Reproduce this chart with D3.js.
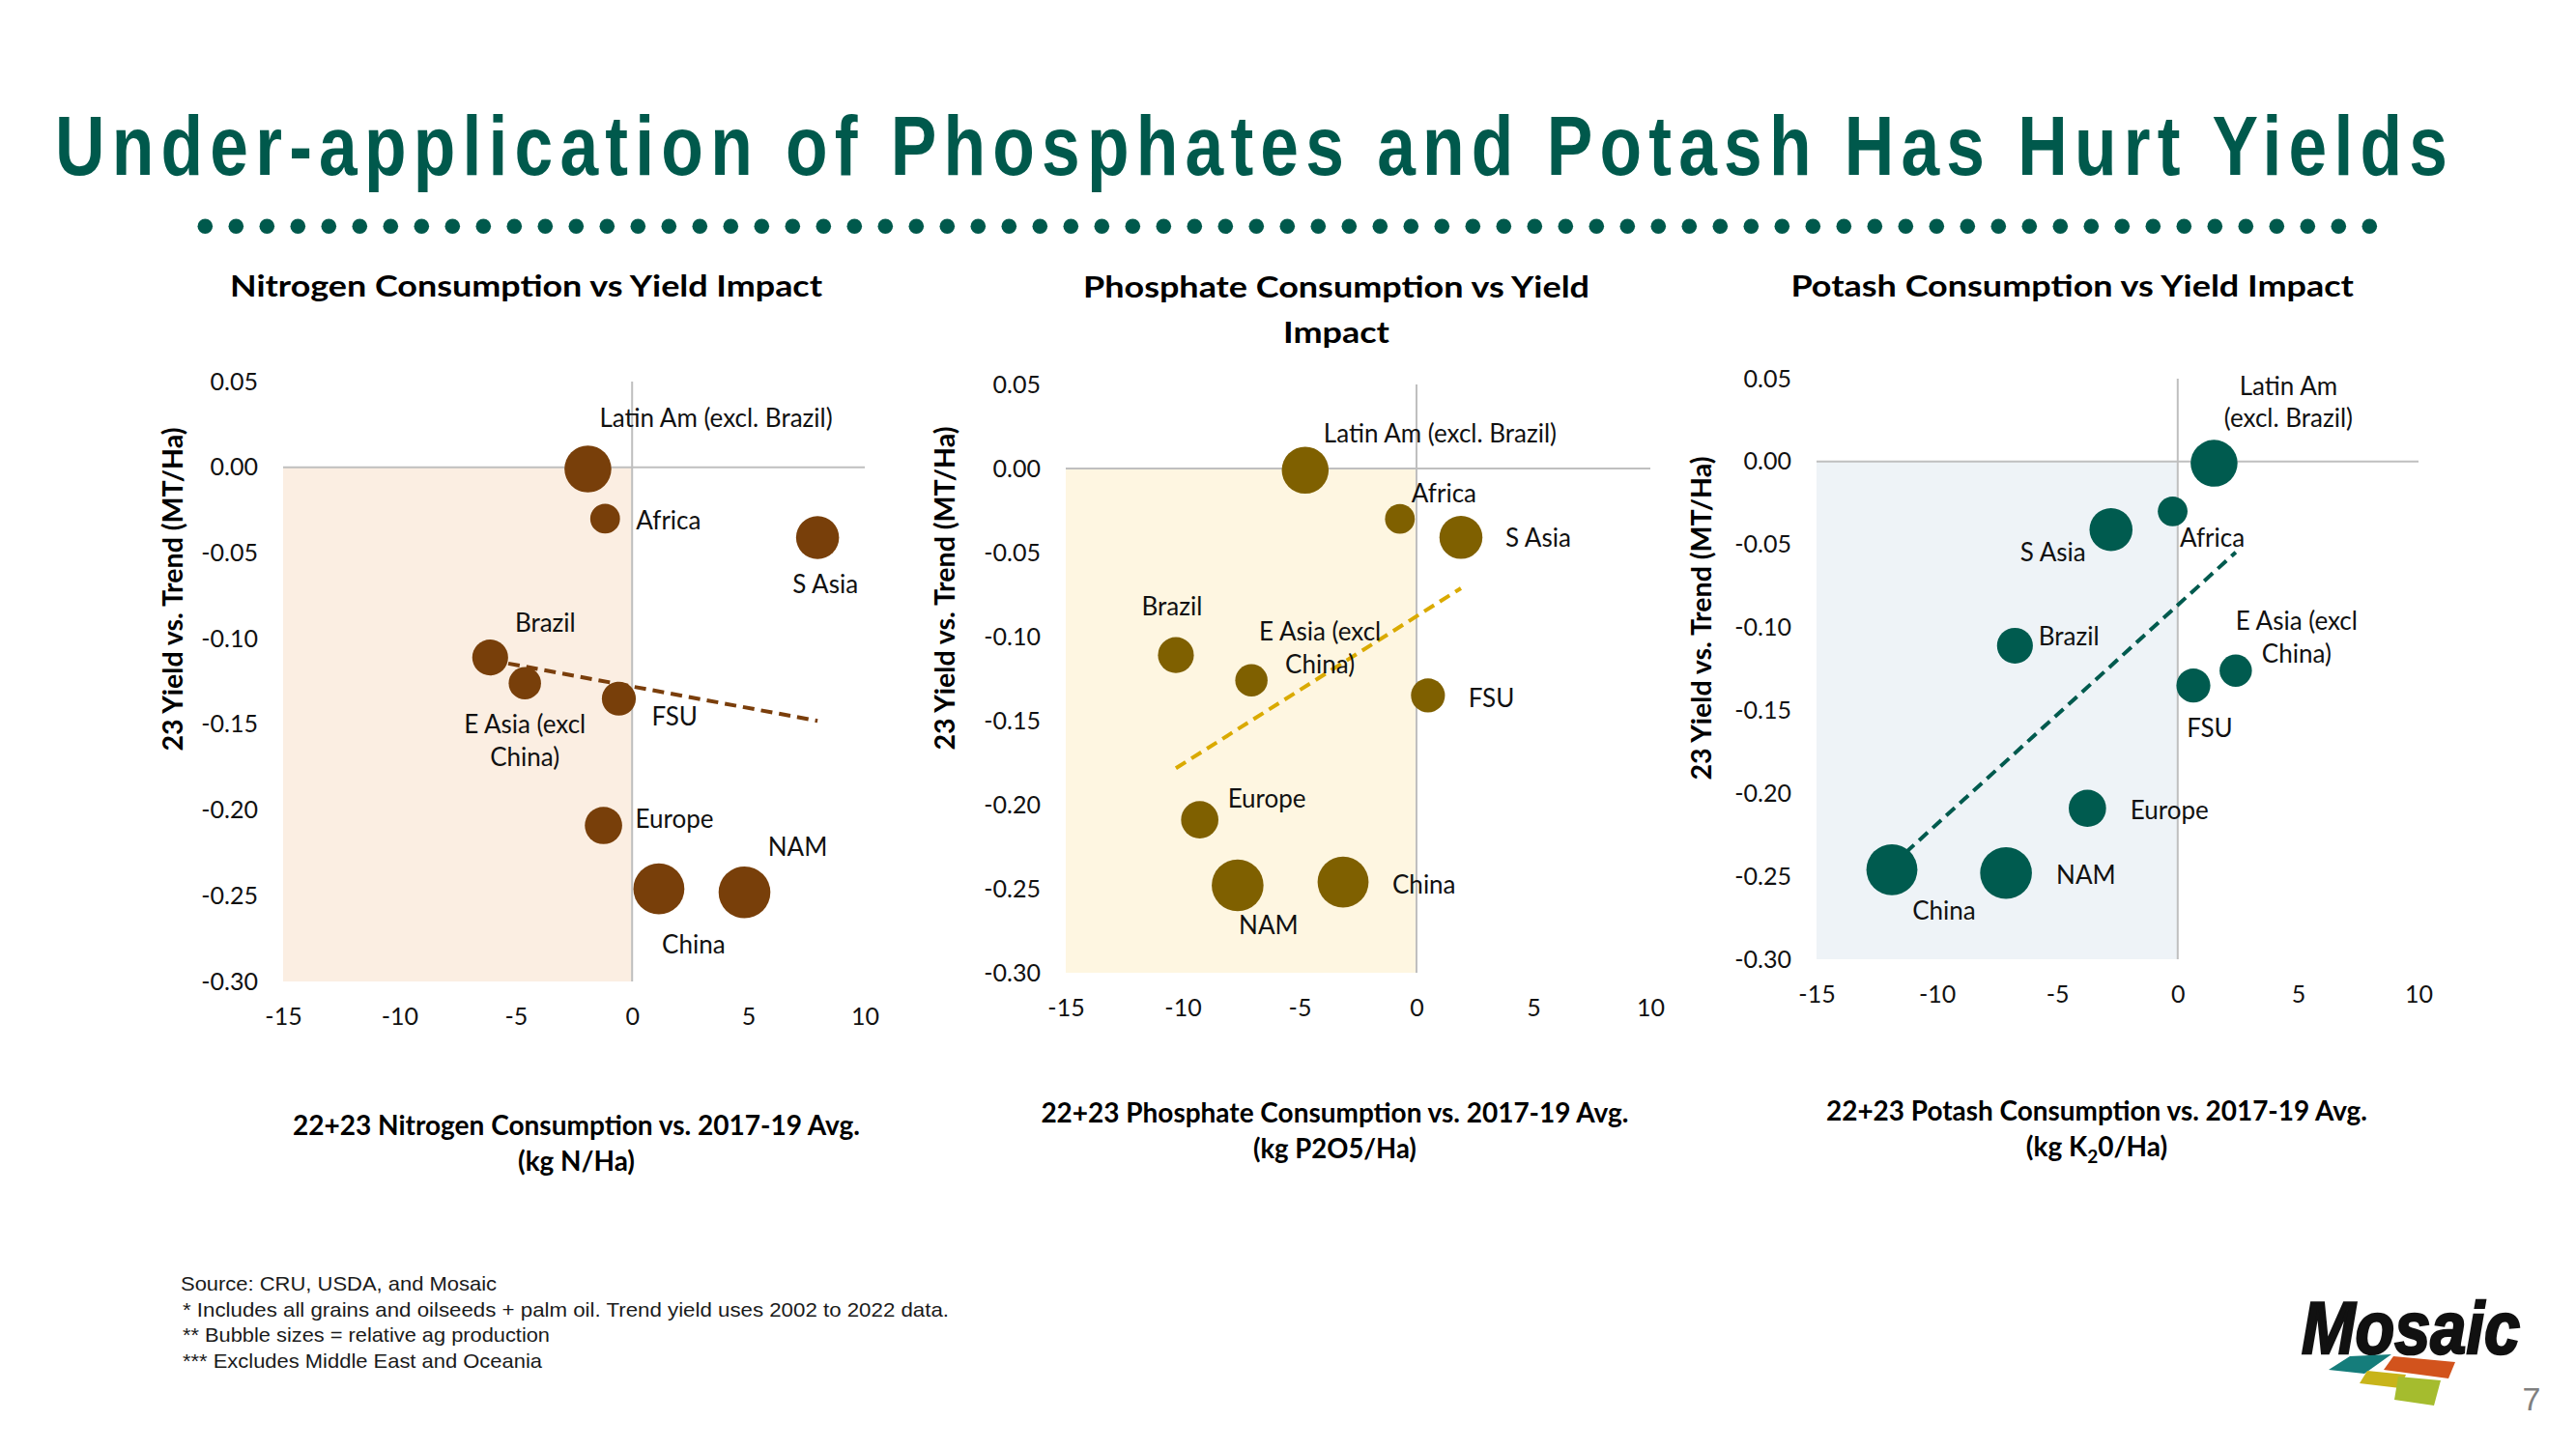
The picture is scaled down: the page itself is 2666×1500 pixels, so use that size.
<!DOCTYPE html>
<html>
<head>
<meta charset="utf-8">
<script src="https://cdn.jsdelivr.net/npm/d3@7"></script>
<style>
  html, body { margin: 0; padding: 0; background: #ffffff; }
  svg { display: block; }
</style>
</head>
<body>
<svg id="chart" width="2666" height="1500"></svg>
<script>
// ---------------- DATA ----------------
const regionLabels = ["Latin Am|(excl. Brazil)", "Africa", "S Asia", "Brazil", "E Asia (excl|China)", "FSU", "Europe", "China", "NAM"];
const yieldVsTrend = [-0.001, -0.030, -0.041, -0.111, -0.126, -0.135, -0.209, -0.246, -0.248];
const bubbleSize = [82, 33, 69, 48, 39, 43, 52, 97, 100];           // relative ag production
const nitrogenChange  = [-1.90, -1.16,  7.97,  -6.10, -4.61, -0.57, -1.23,  1.15,  4.83];
const phosphateChange = [-4.76, -0.71,  1.90, -10.29, -7.06,  0.49, -9.27, -3.14, -7.65];
const potashChange    = [ 1.51, -0.21, -2.77,  -6.76,  2.41,  0.65, -3.75, -11.87, -7.13];
const xTicks = [-15, -10, -5, 0, 5, 10];
const yTicks = [0.05, 0.00, -0.05, -0.10, -0.15, -0.20, -0.25, -0.30];
const xDomain = [-15, 10];
const yDomain = [-0.30, 0.05];

const mainTitle = "Under-application of Phosphates and Potash Has Hurt Yields";
const yAxisTitle = "23 Yield vs. Trend (MT/Ha)";
const footnotes = [
  "Source: CRU, USDA, and Mosaic",
  "* Includes all grains and oilseeds + palm oil.  Trend yield uses 2002 to 2022 data.",
  "** Bubble sizes = relative ag production",
  "*** Excludes Middle East and Oceania"
];

// ---------------- LAYOUT / STYLE ----------------
const FONT = "Lato, 'Open Sans', sans-serif";
const AXIS_GREY = "#BFBFBF";

const charts = [
  {
    values: nitrogenChange,
    title: ["Nitrogen Consumption vs Yield Impact"], titleX: 544.5, titleY: 307, titleW: [613],
    xTitle: ["22+23 Nitrogen Consumption vs. 2017-19 Avg.", "(kg N/Ha)"], xTitleX: 596.5, xTitleY: 1175, xTitleW: [587, 121],
    yTitleX: 178, yTitleY: 610,
    xRange: [293, 895], yRange: [1016, 395],
    bubble: "#783F0A", trend: "#7A3E0B", shade: "#FBEEE2",
    labels: [
      {dx: 12, dy: -53, a: "start"}, {dx: 32, dy: 1, a: "start"}, {dx: 8, dy: 48, a: "middle"},
      {dx: 57, dy: -37, a: "middle"}, {dx: 0, dy: 42, a: "middle", wrap: true}, {dx: 34, dy: 18, a: "start"},
      {dx: 33, dy: -8, a: "start"}, {dx: 36, dy: 57, a: "middle"}, {dx: 55, dy: -48, a: "middle"}
    ]
  },
  {
    values: phosphateChange,
    title: ["Phosphate Consumption vs Yield", "Impact"], titleX: 1383, titleY: 308, titleW: [524, 110],
    xTitle: ["22+23 Phosphate Consumption vs. 2017-19 Avg.", "(kg P2O5/Ha)"], xTitleX: 1381.4, xTitleY: 1162, xTitleW: [608, 169],
    yTitleX: 977, yTitleY: 609,
    xRange: [1103, 1708], yRange: [1007, 398],
    bubble: "#7F6000", trend: "#DAAA00", shade: "#FEF6E1",
    labels: [
      {dx: 19, dy: -39, a: "start"}, {dx: 12, dy: -27, a: "start"}, {dx: 46, dy: 0, a: "start"},
      {dx: -4, dy: -51, a: "middle"}, {dx: 71, dy: -51, a: "middle", wrap: true}, {dx: 42, dy: 2, a: "start"},
      {dx: 29, dy: -23, a: "start"}, {dx: 51, dy: 2, a: "start"}, {dx: 32, dy: 40, a: "middle"}
    ]
  },
  {
    values: potashChange,
    title: ["Potash Consumption vs Yield Impact"], titleX: 2144.7, titleY: 307, titleW: [582.6],
    xTitle: ["22+23 Potash Consumption vs. 2017-19 Avg.", null], xTitleX: 2170, xTitleY: 1160, xTitleW: [560, null],
    yTitleX: 1760, yTitleY: 640,
    xRange: [1880, 2503], yRange: [993, 392],
    bubble: "#005B4F", trend: "#005A4E", shade: "#EEF3F7",
    labels: [
      {dx: 77, dy: -81, a: "middle", wrap: true}, {dx: 41, dy: 27, a: "middle"}, {dx: -60, dy: 23, a: "middle"},
      {dx: 24.5, dy: -10, a: "start"}, {dx: 63, dy: -52, a: "middle", wrap: true}, {dx: 17, dy: 43, a: "middle"},
      {dx: 44.5, dy: 1, a: "start"}, {dx: 54, dy: 42, a: "middle"}, {dx: 52, dy: 1, a: "start"}
    ]
  }
];

const svg = d3.select("#chart");
svg.append("rect").attr("width", 2666).attr("height", 1500).attr("fill", "#ffffff");

// ---------------- HEADER ----------------
svg.append("text")
  .attr("transform", "translate(57,181) scale(0.82,1)")
  .attr("x", 0).attr("y", 0)
  .attr("textLength", 2476 / 0.82).attr("lengthAdjust", "spacing")
  .attr("font-family", "'Liberation Sans', Arial, sans-serif")
  .attr("font-weight", "bold").attr("font-size", 87)
  .attr("fill", "#00594C")
  .text(mainTitle);

svg.append("g").selectAll("circle")
  .data(d3.range(71))
  .join("circle")
  .attr("cx", i => 212.3 + i * 32)
  .attr("cy", 234.3)
  .attr("r", 7.8)
  .attr("fill", "#00594C");

// ---------------- CHARTS ----------------
const rScale = d3.scaleSqrt().domain([0, 100]).range([0, 26.8]);

charts.forEach(cfg => {
  const g = svg.append("g");
  const x = d3.scaleLinear().domain(xDomain).range(cfg.xRange);
  const y = d3.scaleLinear().domain(yDomain).range(cfg.yRange);

  // shaded quadrant
  g.append("rect")
    .attr("x", x(-15)).attr("y", y(0))
    .attr("width", x(0) - x(-15)).attr("height", y(-0.30) - y(0))
    .attr("fill", cfg.shade);

  // crossing axis lines
  g.append("line")
    .attr("x1", x(xDomain[0])).attr("x2", x(xDomain[1]))
    .attr("y1", y(0)).attr("y2", y(0))
    .attr("stroke", AXIS_GREY).attr("stroke-width", 2);
  g.append("line")
    .attr("x1", x(0)).attr("x2", x(0))
    .attr("y1", y(yDomain[1])).attr("y2", y(yDomain[0]))
    .attr("stroke", AXIS_GREY).attr("stroke-width", 2);

  // tick labels (low position)
  const yAxis = g.append("g")
    .attr("transform", `translate(${x(-15)},0)`)
    .call(d3.axisLeft(y).tickValues(yTicks).tickSize(0).tickPadding(26).tickFormat(d => d.toFixed(2)));
  const xAxis = g.append("g")
    .attr("transform", `translate(0,${y(-0.30)})`)
    .call(d3.axisBottom(x).tickValues(xTicks).tickSize(0).tickPadding(27).tickFormat(d => String(d)));
  [yAxis, xAxis].forEach(ax => {
    ax.select(".domain").remove();
    ax.selectAll("text").attr("font-family", FONT).attr("font-size", 25).attr("fill", "#111");
  });

  // linear trendline (least squares) across the data's x range
  const xs = cfg.values, ys = yieldVsTrend;
  const mx = d3.mean(xs), my = d3.mean(ys);
  const sxy = d3.sum(xs, (v, i) => (v - mx) * (ys[i] - my));
  const sxx = d3.sum(xs, v => (v - mx) * (v - mx));
  const b = sxy / sxx, a = my - b * mx;
  const [xmin, xmax] = d3.extent(xs);
  g.append("line")
    .attr("x1", x(xmin)).attr("y1", y(a + b * xmin))
    .attr("x2", x(xmax)).attr("y2", y(a + b * xmax))
    .attr("stroke", cfg.trend).attr("stroke-width", 4)
    .attr("stroke-dasharray", "12,7");

  // bubbles
  const pts = xs.map((v, i) => ({x: v, y: ys[i], s: bubbleSize[i], label: regionLabels[i], lay: cfg.labels[i]}));
  g.append("g").selectAll("circle")
    .data(pts)
    .join("circle")
    .attr("cx", d => x(d.x)).attr("cy", d => y(d.y))
    .attr("r", d => rScale(d.s))
    .attr("fill", cfg.bubble);

  // data labels
  const lg = g.append("g");
  pts.forEach(d => {
    const lines = d.lay.wrap ? d.label.split("|") : [d.label.replace("|", " ")];
    const t = lg.append("text")
      .attr("font-family", FONT).attr("font-size", 26).attr("fill", "#111")
      .attr("text-anchor", d.lay.a)
      .attr("dominant-baseline", "central");
    lines.forEach((ln, k) => {
      t.append("tspan")
        .attr("x", x(d.x) + d.lay.dx)
        .attr("y", y(d.y) + d.lay.dy + k * 33.5)
        .text(ln);
    });
  });

  // chart title
  cfg.title.forEach((ln, k) => {
    g.append("text")
      .attr("x", cfg.titleX).attr("y", cfg.titleY + k * 47)
      .attr("text-anchor", "middle")
      .attr("font-family", FONT).attr("font-weight", "bold").attr("font-size", 31)
      .attr("fill", "#000")
      .attr("textLength", cfg.titleW[k]).attr("lengthAdjust", "spacingAndGlyphs")
      .text(ln);
  });

  // x axis title
  cfg.xTitle.forEach((ln, k) => {
    const t = g.append("text")
      .attr("x", cfg.xTitleX).attr("y", cfg.xTitleY + k * 37)
      .attr("text-anchor", "middle")
      .attr("font-family", FONT).attr("font-weight", "bold").attr("font-size", 28)
      .attr("fill", "#000");
    if (ln === null) {
      t.append("tspan").text("(kg K");
      t.append("tspan").attr("font-size", 19).attr("dy", 7).text("2");
      t.append("tspan").attr("dy", -7).text("0/Ha)");
    } else {
      t.attr("textLength", cfg.xTitleW[k]).attr("lengthAdjust", "spacingAndGlyphs").text(ln);
    }
  });

  // y axis title
  g.append("text")
    .attr("transform", `translate(${cfg.yTitleX},${cfg.yTitleY}) rotate(-90)`)
    .attr("text-anchor", "middle").attr("dominant-baseline", "central")
    .attr("font-family", FONT).attr("font-weight", "bold").attr("font-size", 28)
    .attr("fill", "#000")
    .attr("textLength", 335).attr("lengthAdjust", "spacingAndGlyphs")
    .text(yAxisTitle);
});

// ---------------- FOOTNOTES ----------------
const fnX = [187, 189, 189, 189];
const fnW = [327, 793, 380, 372];
footnotes.forEach((ln, i) => {
  svg.append("text")
    .attr("x", fnX[i]).attr("y", 1336 + i * 26.5)
    .attr("font-family", "'Liberation Sans', Arial, sans-serif").attr("font-size", 21)
    .attr("fill", "#1a1a1a")
    .attr("textLength", fnW[i]).attr("lengthAdjust", "spacingAndGlyphs")
    .text(ln);
});

// ---------------- LOGO + PAGE NUMBER ----------------
const logo = svg.append("g");
logo.append("text")
  .attr("x", 2382).attr("y", 1401)
  .attr("font-family", "'Liberation Sans', Arial, sans-serif")
  .attr("font-weight", "bold").attr("font-style", "italic").attr("font-size", 76)
  .attr("fill", "#111").attr("stroke", "#111").attr("stroke-width", 2.5)
  .attr("textLength", 226).attr("lengthAdjust", "spacingAndGlyphs")
  .text("Mosaic");
const tiles = [
  {fill: "#157D7B", pts: [[2432,1404],[2475,1402],[2447,1422],[2410,1418]]},
  {fill: "#D2531D", pts: [[2477,1404],[2541,1410],[2534,1427],[2467,1418]]},
  {fill: "#C8B41A", pts: [[2450,1419],[2490,1423],[2484,1437],[2442,1432]]},
  {fill: "#A5BC2E", pts: [[2482,1425],[2526,1429],[2519,1455],[2478,1449]]}
];
logo.selectAll("polygon").data(tiles).join("polygon")
  .attr("points", d => d.pts.map(p => p.join(",")).join(" "))
  .attr("fill", d => d.fill);

svg.append("text")
  .attr("x", 2620).attr("y", 1460)
  .attr("text-anchor", "middle")
  .attr("font-family", "'Liberation Sans', Arial, sans-serif").attr("font-size", 34)
  .attr("fill", "#808080")
  .text("7");
</script>
</body>
</html>
